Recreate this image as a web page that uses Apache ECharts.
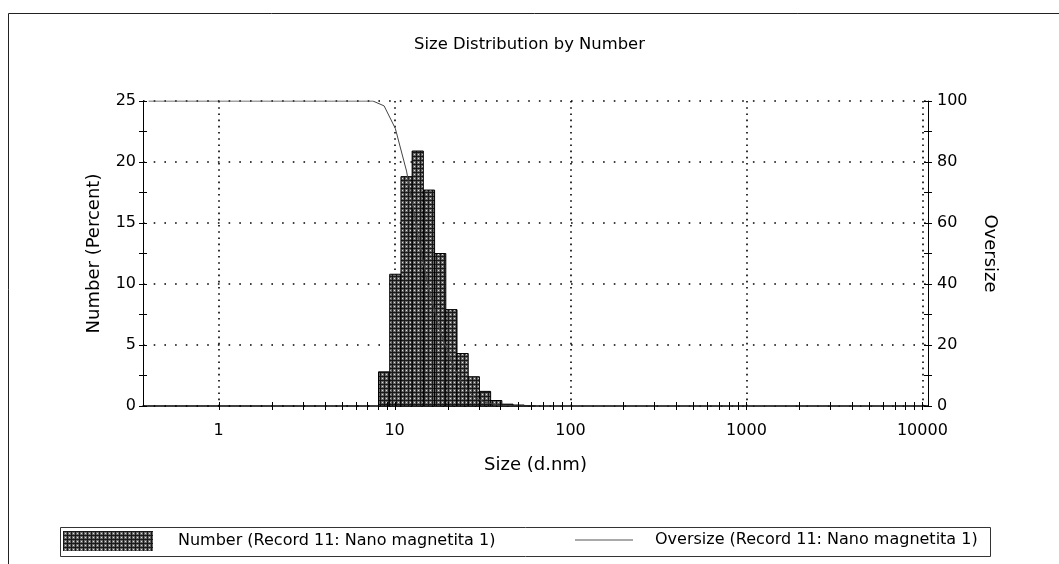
<!DOCTYPE html>
<html><head><meta charset="utf-8">
<script src="https://cdn.jsdelivr.net/npm/echarts@6/dist/echarts.min.js"></script>
<style>html,body{margin:0;padding:0;background:#fff}#c{width:1059px;height:564px}</style>
</head><body><div id="c"></div>
<script>
// ---- data ----
const binSizes  = [8.721, 10.10, 11.70, 13.54, 15.69, 18.17, 21.04, 24.36, 28.21, 32.67, 37.84, 43.82, 50.75, 58.77];
const numberPct = [2.8, 10.8, 18.8, 20.9, 17.7, 12.5, 7.9, 4.3, 2.4, 1.2, 0.45, 0.15, 0.08, 0.03];
const curveSizes = [0.4, 7.531, 8.721, 10.10, 11.70, 13.54, 15.69, 18.17, 21.04, 24.36, 28.21, 32.67, 37.84, 43.82, 50.75, 10000];
const oversize   = [100, 100, 98.4, 91, 77, 56.5, 38, 24.5, 14.5, 7, 3, 1.2, 0.4, 0.1, 0, 0];
const xMajorTicks = [1, 10, 100, 1000, 10000];
const xMinorTicks = [2,3,4,5,6,7,8,9, 20,30,40,50,60,70,80,90, 200,300,400,500,600,700,800,900, 2000,3000,4000,5000,6000,7000,8000,9000];
const numberName = 'Number (Record 11: Nano magnetita 1)';
const oversizeName = 'Oversize (Record 11: Nano magnetita 1)';

// Malvern 70-bin log spacing from 0.4 to 10000 nm: half-bin factor
const HALF = Math.pow(10, Math.log10(10000 / 0.4) / 69 / 2);
const X_MIN = 0.4 / HALF, X_MAX = 10000 * HALF;

// hatch pattern
const pc = document.createElement('canvas');
pc.width = 4; pc.height = 4;
const g = pc.getContext('2d');
g.fillStyle = '#666666'; g.fillRect(0, 0, 4, 4);
g.fillStyle = '#181818'; g.fillRect(0, 0, 4, 1); g.fillRect(0, 0, 1, 4);
g.fillStyle = '#e0e0e0'; g.fillRect(2, 2, 1, 1);
const pattern = { image: pc, repeat: 'repeat' };

const FONT = "'DejaVu Sans', Verdana, sans-serif";
const chart = echarts.init(document.getElementById('c'), null, { renderer: 'canvas' });

const tickAll = xMajorTicks.concat(xMinorTicks);

chart.setOption({
  animation: false,
  backgroundColor: '#fff',
  textStyle: { fontFamily: FONT, color: '#000' },
  title: {
    text: 'Size Distribution by Number',
    left: 'center', top: 37, padding: [0, 0, 0, 25],
    textStyle: { fontSize: 16.4, fontWeight: 'normal', color: '#000', fontFamily: FONT }
  },
  grid: { left: 143, right: 131, top: 101, bottom: 158 },
  legend: [
    {
      left: 63, top: 531, padding: 0, itemWidth: 90, itemHeight: 20,
      data: [{ name: numberName, icon: 'rect', itemStyle: { color: pattern, borderColor: '#000', borderWidth: 0 } }],
      textStyle: { fontSize: 16, color: '#000', fontFamily: FONT, padding: [0, 0, 0, 20] },
      selectedMode: false
    },
    {
      left: 575, top: 532, padding: 0, itemWidth: 58, itemHeight: 20, symbolKeepAspect: true,
      data: [{ name: oversizeName, icon: 'path://M0,0L58,0L58,1L0,1Z', itemStyle: { color: '#555', borderWidth: 0 } }],
      textStyle: { fontSize: 16, color: '#000', fontFamily: FONT, padding: [0, 0, 0, 17] },
      selectedMode: false
    }
  ],
  xAxis: {
    type: 'log', logBase: 10, min: X_MIN, max: X_MAX,
    axisLine: { show: true, lineStyle: { color: '#000', width: 1.5 } },
    axisTick: { show: false },
    axisLabel: {
      fontSize: 16, color: '#000', margin: 17, showMinLabel: false, showMaxLabel: false,
      formatter: v => String(Math.round(v))
    },
    splitLine: { show: true, showMinLine: false, showMaxLine: false, lineStyle: { color: '#000', width: 1.6, type: [1.6, 4.6] } },
    name: 'Size (d.nm)', nameLocation: 'middle', nameGap: 50,
    nameTextStyle: { fontSize: 18, color: '#000' }
  },
  yAxis: [
    {
      type: 'value', min: 0, max: 25, interval: 5, position: 'left',
      axisLine: { show: true, lineStyle: { color: '#000', width: 1 } },
      axisTick: { show: true, length: 4, lineStyle: { color: '#000' } },
      minorTick: { show: true, splitNumber: 2, length: 4, lineStyle: { color: '#000' } },
      axisLabel: { fontSize: 16, color: '#000', margin: 7 },
      splitLine: { show: true, lineStyle: { color: '#000', width: 1.6, type: [1.6, 9.1] } },
      name: 'Number (Percent)', nameLocation: 'middle', nameGap: 40,
      nameTextStyle: { fontSize: 18, color: '#000' }
    },
    {
      type: 'value', min: 0, max: 100, interval: 20, position: 'right',
      axisLine: { show: true, lineStyle: { color: '#000', width: 1 } },
      axisTick: { show: true, length: 4, lineStyle: { color: '#000' } },
      minorTick: { show: true, splitNumber: 2, length: 4, lineStyle: { color: '#000' } },
      axisLabel: { fontSize: 16, color: '#000', margin: 9 },
      splitLine: { show: false },
      name: 'Oversize', nameLocation: 'middle', nameGap: 53, nameRotate: -90,
      nameTextStyle: { fontSize: 18, color: '#000' }
    },
    {
      type: 'value', min: 0, max: 25, interval: 5, position: 'left',
      axisLine: { show: false }, axisLabel: { show: false }, splitLine: { show: false },
      axisTick: { show: true, inside: true, length: 4, lineStyle: { color: '#000' } },
      minorTick: { show: true, splitNumber: 2, length: 4, lineStyle: { color: '#000' } }
    },
    {
      type: 'value', min: 0, max: 100, interval: 20, position: 'right',
      axisLine: { show: false }, axisLabel: { show: false }, splitLine: { show: false },
      axisTick: { show: true, inside: true, length: 4, lineStyle: { color: '#000' } },
      minorTick: { show: true, splitNumber: 2, length: 4, lineStyle: { color: '#000' } }
    }
  ],
  graphic: [
    { type: 'rect', silent: true, shape: { x: 8.5, y: 13.5, width: 1100, height: 700 }, style: { fill: null, stroke: '#222', lineWidth: 1 }, z: -10 },
    { type: 'rect', silent: true, shape: { x: 60.5, y: 527.5, width: 930, height: 29 }, style: { fill: null, stroke: '#333', lineWidth: 1 }, z: -5 }
  ],
  series: [
    {
      name: numberName, type: 'custom', xAxisIndex: 0, yAxisIndex: 0,
      itemStyle: { color: pattern },
      encode: { x: 0, y: 1 },
      data: binSizes.map((s, i) => [s, numberPct[i]]),
      renderItem: (params, api) => {
        const s = api.value(0), v = api.value(1);
        const p0 = api.coord([s / HALF, v]);
        const p1 = api.coord([s * HALF, 0]);
        return {
          type: 'rect',
          shape: { x: p0[0], y: p0[1], width: p1[0] - p0[0], height: p1[1] - p0[1] },
          style: { fill: pattern, stroke: '#000', lineWidth: 1 }
        };
      },
      z: 2, silent: true
    },
    {
      name: oversizeName, type: 'line', xAxisIndex: 0, yAxisIndex: 1,
      data: curveSizes.map((s, i) => [s, oversize[i]]),
      showSymbol: false, symbol: 'none',
      lineStyle: { color: '#444', width: 1 },
      itemStyle: { color: '#444' },
      z: 3, silent: true
    },
    {
      name: 'xticks', type: 'custom', xAxisIndex: 0, yAxisIndex: 0,
      data: tickAll.map(v => [v, 0]),
      encode: { x: 0, y: 1 },
      clip: false,
      renderItem: (params, api) => {
        const p = api.coord([api.value(0), 0]);
        return {
          type: 'line',
          shape: { x1: Math.round(p[0]) + 0.5, y1: p[1] - 4, x2: Math.round(p[0]) + 0.5, y2: p[1] + 4 },
          style: { stroke: '#000', lineWidth: 1 }
        };
      },
      z: 4, silent: true
    }
  ]
});
</script></body></html>
